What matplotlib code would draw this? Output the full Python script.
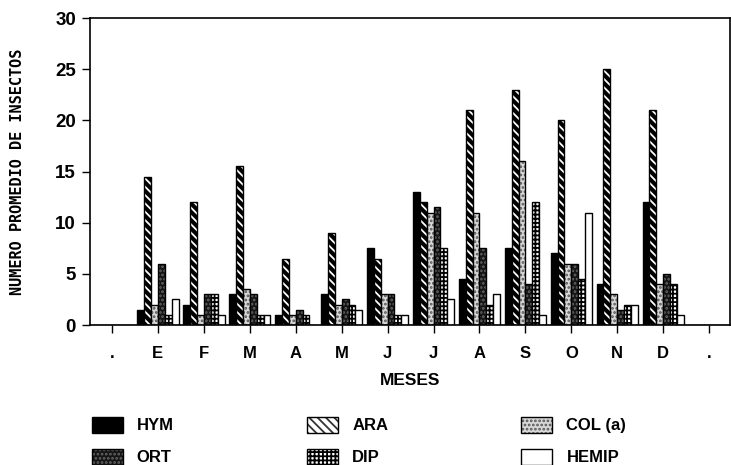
import matplotlib
matplotlib.use("Agg")
import matplotlib.pyplot as plt
from matplotlib.patches import Patch
import numpy as np

# Mean number of insects per month, by group
months = [".", "E", "F", "M", "A", "M", "J", "J", "A", "S", "O", "N", "D", "."]
hym   = [0, 1.5, 2, 3, 1, 3, 7.5, 13, 4.5, 7.5, 7, 4, 12, 0]
ara   = [0, 14.5, 12, 15.5, 6.5, 9, 6.5, 12, 21, 23, 20, 25, 21, 0]
col_a = [0, 2, 1, 3.5, 1, 2, 3, 11, 11, 16, 6, 3, 4, 0]
ort   = [0, 6, 3, 3, 1.5, 2.5, 3, 11.5, 7.5, 4, 6, 1.5, 5, 0]
dip   = [0, 1, 3, 1, 1, 2, 1, 7.5, 2, 12, 4.5, 2, 4, 0]
hemip = [0, 2.5, 1, 1, 0, 1.5, 1, 2.5, 3, 1, 11, 2, 1, 0]

plt.rcParams["hatch.linewidth"] = 1.3

# (label, values, face colour, hatch colour, hatch)
series = [
    ("HYM", hym, "black", "black", None),
    ("ARA", ara, "black", "white", "\\\\\\\\"),
    ("COL (a)", col_a, "#d8d8d8", "#555555", "...."),
    ("ORT", ort, "#151515", "#666666", "...."),
    ("DIP", dip, "white", "black", "++++"),
    ("HEMIP", hemip, "white", "white", None),
]

fig = plt.figure(figsize=(7.31, 4.65), dpi=100)
ax = fig.add_axes([0.123, 0.301, 0.876, 0.660])

x = np.arange(len(months))
w = 0.15
handles = {}
for i, (lab, vals, fc, hc, hatch) in enumerate(series):
    pos = x + (i - 2.5) * w
    ax.bar(pos, vals, w, color=fc, edgecolor=hc, hatch=hatch, linewidth=0)
    ax.bar(pos, vals, w, fill=False, edgecolor="black", linewidth=1.0)
    lfc = fc
    lhc = hc
    if lab == "ARA":
        lfc, lhc = "white", "#333333"
    handles[lab] = (Patch(facecolor=lfc, edgecolor=lhc, hatch=hatch, linewidth=0),
                    Patch(fill=False, edgecolor="black", linewidth=1.0))

ax.set_xlim(-0.48, 13.46)
ax.set_ylim(0, 30)
ax.set_yticks([0, 5, 10, 15, 20, 25, 30])
ax.set_xticks(x)
ax.set_xticklabels(months)
for lbl in ax.get_xticklabels() + ax.get_yticklabels():
    lbl.set_fontfamily("Liberation Sans")
    lbl.set_fontweight("bold")
ax.tick_params(axis="y", labelsize=13.5, length=6, width=1, pad=4)
ax.tick_params(axis="x", labelsize=12, length=6, width=1, pad=9)
for s in ax.spines.values():
    s.set_linewidth(1.2)

ax.set_xlabel("MESES", fontsize=12.5, fontweight="bold",
              fontfamily="Liberation Sans", labelpad=9)
ax.set_ylabel("NUMERO PROMEDIO DE INSECTOS", fontsize=11, fontweight="bold",
              fontfamily="DejaVu Sans Mono", labelpad=22)

order = ["HYM", "ORT", "ARA", "DIP", "COL (a)", "HEMIP"]
fig.legend([handles[k] for k in order], order, ncol=3, loc="upper left",
           bbox_to_anchor=(0.105, 0.136), frameon=False,
           prop={"family": "Liberation Sans", "weight": "bold", "size": 12},
           handlelength=1.85, handleheight=1.1, handletextpad=0.85,
           columnspacing=8.0, labelspacing=0.92)

fig.savefig("out.png", dpi=100)
